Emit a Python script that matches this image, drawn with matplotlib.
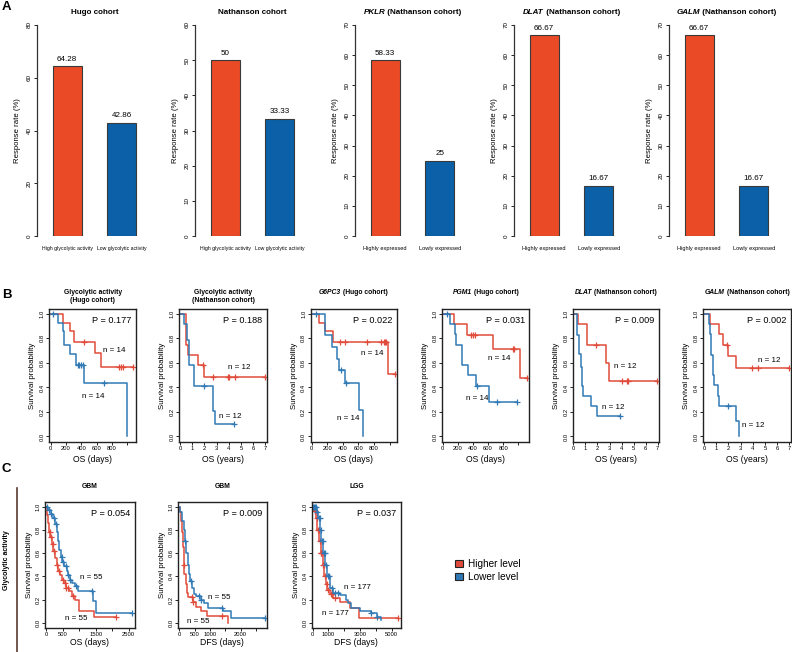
import numpy as np
import matplotlib
matplotlib.use('Agg')
import matplotlib.pyplot as plt
from matplotlib.patches import Patch

plt.rcParams['font.family'] = ['Liberation Sans', 'DejaVu Sans']

W, H = 792, 652
RED_BAR = '#EA4A26'
BLUE_BAR = '#0B60A8'
RED = '#E04B3B'
BLUE = '#3079B5'
DARK = '#222222'

# ---------------- panel A data ----------------
glyco_labels = ['High glycolytic activity', 'Low glycolytic activity']
expr_labels = ['Highly expressed', 'Lowly expressed']
hugo_rate = [64.28, 42.86]
nathanson_rate = [50, 33.33]
pklr_rate = [58.33, 25]
dlat_rate = [66.67, 16.67]
galm_rate = [66.67, 16.67]

# ---------------- panel B data (event times, survival after event, censor times) ----------------
b1_red_t = [165, 252, 309, 578, 657]
b1_red_s = [0.929, 0.857, 0.77, 0.68, 0.565]
b1_red_c = [439, 896, 917, 939, 1078]
b1_blue_t = [100, 165, 175, 250, 330, 430, 990]
b1_blue_s = [0.929, 0.857, 0.75, 0.67, 0.58, 0.44, 0.0]
b1_blue_c = [35, 352, 370, 391, 417, 700]

b2_red_t = [0.45, 0.65, 1.45, 2.0]
b2_red_s = [0.75, 0.667, 0.583, 0.486]
b2_red_c = [1.9, 2.7, 3.95, 4.05, 4.5, 6.95]
b2_blue_t = [0.35, 0.55, 0.75, 1.15, 2.7, 2.85]
b2_blue_s = [0.917, 0.79, 0.58, 0.41, 0.21, 0.10]
b2_blue_c = [2.0, 4.45]

b3_red_t = [95, 178, 270, 985]
b3_red_s = [0.929, 0.857, 0.77, 0.51]
b3_red_c = [360, 425, 705, 895, 925, 945, 958, 1068]
b3_blue_t = [178, 267, 326, 350, 432, 610, 665]
b3_blue_s = [0.83, 0.73, 0.63, 0.54, 0.44, 0.22, 0.0]
b3_blue_c = [51, 380, 441]

b4_red_t = [154, 317, 670, 1022]
b4_red_s = [0.92, 0.83, 0.71, 0.48]
b4_red_c = [370, 396, 427, 925, 947, 1110]
b4_blue_t = [97, 163, 176, 260, 339, 440, 612]
b4_blue_s = [0.92, 0.84, 0.75, 0.58, 0.5, 0.41, 0.28]
b4_blue_c = [53, 450, 722, 987]

b5_red_t = [0.36, 1.1, 2.7, 2.95]
b5_red_s = [0.917, 0.75, 0.6, 0.455]
b5_red_c = [1.88, 4.0, 4.42, 4.5, 6.9]
b5_blue_t = [0.33, 0.47, 0.6, 0.75, 0.83, 1.46, 2.0]
b5_blue_s = [0.83, 0.67, 0.57, 0.41, 0.33, 0.25, 0.17]
b5_blue_c = [3.9]

b6_red_t = [0.5, 1.23, 1.53, 2.0, 2.62]
b6_red_s = [0.917, 0.833, 0.75, 0.66, 0.56]
b6_red_c = [1.86, 3.96, 4.45, 6.94]
b6_blue_t = [0.4, 0.47, 0.55, 0.7, 0.8, 1.15, 1.25, 2.65, 2.9]
b6_blue_s = [0.917, 0.833, 0.667, 0.5, 0.417, 0.333, 0.25, 0.125, 0.0]
b6_blue_c = [2.0]

# ---------------- panel C data ----------------
c1_red_t = [20, 60, 100, 130, 170, 220, 270, 320, 370, 410, 470, 530, 600, 700, 800, 880, 1000, 1450]
c1_red_s = [0.93, 0.86, 0.78, 0.74, 0.68, 0.62, 0.56, 0.50, 0.45, 0.41, 0.37, 0.34, 0.30, 0.27, 0.23, 0.20, 0.10, 0.05]
c1_red_c = [110, 160, 200, 250, 330, 400, 520, 560, 610, 650, 830, 2110]
c1_blue_t = [70, 140, 200, 270, 320, 360, 400, 440, 490, 550, 620, 670, 720, 790, 875, 975, 1410, 1500]
c1_blue_s = [0.97, 0.94, 0.90, 0.85, 0.78, 0.70, 0.63, 0.57, 0.52, 0.49, 0.45, 0.41, 0.37, 0.34, 0.32, 0.27, 0.19, 0.08]
c1_blue_c = [30, 100, 150, 230, 290, 470, 520, 600, 680, 740, 900, 1390, 2590]

c2_red_t = [20, 50, 80, 110, 140, 170, 210, 250, 300, 450, 550, 700, 900, 1600]
c2_red_s = [0.95, 0.88, 0.78, 0.65, 0.5, 0.42, 0.33, 0.26, 0.22, 0.18, 0.14, 0.1, 0.06, 0.0]
c2_red_c = [140, 400, 460, 1400]
c2_blue_t = [30, 100, 150, 190, 230, 270, 310, 360, 420, 470, 530, 700, 800, 950, 1420, 1700]
c2_blue_s = [0.95, 0.88, 0.8, 0.7, 0.6, 0.5, 0.42, 0.36, 0.3, 0.25, 0.23, 0.2, 0.17, 0.13, 0.1, 0.045]
c2_blue_c = [200, 380, 650, 720, 1400, 2790]

c3_red_t = [100, 200, 300, 400, 500, 630, 740, 850, 930, 1100, 1300, 1700, 2360, 2950]
c3_red_s = [0.96, 0.9, 0.8, 0.7, 0.6, 0.5, 0.4, 0.33, 0.28, 0.25, 0.21, 0.18, 0.13, 0.04]
c3_red_c = [120, 180, 260, 330, 380, 450, 520, 560, 600, 650, 700, 800, 900, 1000, 1150, 1250, 1400, 5380]
c3_blue_t = [250, 350, 470, 560, 680, 800, 920, 1100, 1300, 1700, 2100, 2250, 2450, 3000, 3700, 4100, 4350]
c3_blue_s = [0.95, 0.9, 0.8, 0.7, 0.6, 0.5, 0.4, 0.3, 0.26, 0.24, 0.2, 0.17, 0.13, 0.1, 0.08, 0.05, 0.02]
c3_blue_c = [50, 100, 150, 200, 300, 400, 450, 520, 600, 650, 720, 780, 850, 950, 1050, 1200, 1400, 1600, 3700, 4100]


fig = plt.figure(figsize=(W / 100, H / 100), dpi=100)


def px_axes(x0, y0, x1, y1):
    return fig.add_axes([x0 / W, 1 - y1 / H, (x1 - x0) / W, (y1 - y0) / H])


def mixed_title(ax, parts, y_px, size):
    # bold title whose pieces may be italic, centred over the axes
    r = fig.canvas.get_renderer()
    texts = [fig.text(0, 1 - y_px / H, s, fontsize=size, fontweight='bold',
                      style='italic' if it else 'normal', va='center', ha='left')
             for s, it in parts]
    widths = [t.get_window_extent(r).width for t in texts]
    pos = ax.get_position()
    x = (pos.x0 + pos.x1) / 2 * W - sum(widths) / 2
    for t, w in zip(texts, widths):
        t.set_x(x / W)
        x += w


def bar_panel(x_axis, title, vals, labels, ymax, step, lbl_size):
    ax = px_axes(x_axis, 25, x_axis + 115, 236)
    pos = [0.55, 1.55]
    ax.bar(pos, vals, width=0.53, color=[RED_BAR, BLUE_BAR], edgecolor='#3a3a3a', lw=0.8)
    for p, v in zip(pos, vals):
        ax.annotate(f'{v:g}', (p, v), xytext=(0, 2.5), textcoords='offset points',
                    ha='center', va='bottom', fontsize=5.8)
    ax.set_xlim(0, 2.1)
    ax.set_ylim(0, ymax)
    ax.set_yticks(np.arange(0, ymax + 1, step))
    ax.set_yticklabels([str(v) for v in np.arange(0, ymax + 1, step)], rotation=90, va='center')
    ax.set_xticks(pos)
    ax.set_xticklabels(labels, fontsize=lbl_size)
    ax.tick_params(axis='x', length=0, pad=7)
    ax.tick_params(axis='y', labelsize=4.5, length=2.5, width=0.6, pad=1.5)
    for sp in ['top', 'right', 'bottom']:
        ax.spines[sp].set_visible(False)
    ax.spines['left'].set_linewidth(0.9)
    ax.spines['left'].set_color('#333333')
    ax.set_ylabel('Response rate (%)', fontsize=5.6)
    ax.yaxis.set_label_coords(-16 / 115, 0.5)
    ax.patch.set_alpha(0)
    mixed_title(ax, title, 12.7, 5.8)
    return ax


bar_panel(37, [('Hugo cohort', False)], hugo_rate, glyco_labels, 80, 20, 3.7)
bar_panel(195, [('Nathanson cohort', False)], nathanson_rate, glyco_labels, 60, 10, 3.7)
bar_panel(355, [('PKLR', True), (' (Nathanson cohort)', False)], pklr_rate, expr_labels, 70, 10, 4.1)
bar_panel(514, [('DLAT', True), (' (Nathanson cohort)', False)], dlat_rate, expr_labels, 70, 10, 4.1)
bar_panel(669, [('GALM', True), (' (Nathanson cohort)', False)], galm_rate, expr_labels, 70, 10, 4.1)


def km_curve(ax, t, s, c, color):
    xs = np.r_[0, t]
    ys = np.r_[1.0, s]
    end = max(xs[-1], max(c))
    ax.step(np.r_[xs, end], np.r_[ys, ys[-1]], where='post', color=color, lw=1.1)
    idx = np.searchsorted(xs, c, side='right') - 1
    ax.plot(c, ys[idx], ls='none', marker='+', ms=5, mew=0.9, color=color)


def km_panel(box, xlim, xticks, xticklabels, xlabel, curves, pval, n_pos, y_top, y_bot,
             ylab_off, xlab_off):
    x0, x1 = box
    ax = px_axes(x0, y_top, x1, y_bot)
    w, h = x1 - x0, y_bot - y_top
    for t, s, c, col in curves:
        km_curve(ax, t, s, c, col)
    ax.set_xlim(*xlim)
    ax.set_ylim(-0.045, 1.04)
    ax.set_xticks(xticks)
    ax.set_xticklabels(xticklabels)
    yt = np.arange(0, 1.01, 0.2)
    ax.set_yticks(yt)
    ax.set_yticklabels([f'{v:.1f}' for v in yt], rotation=90, va='center')
    ax.tick_params(labelsize=4.2, length=2, width=0.6, pad=1.2)
    for sp in ax.spines.values():
        sp.set_linewidth(1.0)
        sp.set_color(DARK)
    ax.set_xlabel(xlabel, fontsize=6.2)
    ax.xaxis.set_label_coords(0.5, -xlab_off / h)
    ax.set_ylabel('Survival probability', fontsize=5.7)
    ax.yaxis.set_label_coords(-ylab_off / w, 0.5)
    ax.text(0.95, 0.91, f'P = {pval}', transform=ax.transAxes, ha='right', va='center', fontsize=6.6)
    for (nx, ny), nt in n_pos:
        ax.text(nx, ny, nt, ha='center', va='center', fontsize=5.8)
    return ax


days_ticks = [0, 200, 400, 600, 800, 1000]
days_lbl = ['0', '200', '400', '600', '800', '']
yrs_ticks = list(range(8))
yrs_lbl = [str(v) for v in yrs_ticks]

by0, by1 = 309, 442
ax = km_panel((49.3, 136), (-18, 1112), days_ticks, days_lbl, 'OS (days)',
              [(b1_red_t, b1_red_s, b1_red_c, RED), (b1_blue_t, b1_blue_s, b1_blue_c, BLUE)],
              '0.177', [((826, 0.70), 'n = 14'), ((556, 0.33), 'n = 14')], by0, by1, 13, 13)
mixed_title(ax, [('Glycolytic activity', False)], 293, 4.9)
mixed_title(ax, [('(Hugo cohort)', False)], 300.5, 4.9)

ax = km_panel((179.3, 266.7), (-0.06, 7.1), yrs_ticks, yrs_lbl, 'OS (years)',
              [(b2_red_t, b2_red_s, b2_red_c, RED), (b2_blue_t, b2_blue_s, b2_blue_c, BLUE)],
              '0.188', [((4.86, 0.56), 'n = 12'), ((4.15, 0.16), 'n = 12')], by0, by1, 13, 13)
mixed_title(ax, [('Glycolytic activity', False)], 293, 4.9)
mixed_title(ax, [('(Nathanson cohort)', False)], 300.5, 4.9)

ax = km_panel((310.5, 396.7), (-13, 1090), days_ticks, days_lbl, 'OS (days)',
              [(b3_red_t, b3_red_s, b3_red_c, RED), (b3_blue_t, b3_blue_s, b3_blue_c, BLUE)],
              '0.022', [((771, 0.68), 'n = 14'), ((466, 0.15), 'n = 14')], by0, by1, 13, 13)
mixed_title(ax, [('G6PC3', True), (' (Hugo cohort)', False)], 293, 4.9)

ax = km_panel((441.7, 529.3), (-13, 1144), days_ticks, days_lbl, 'OS (days)',
              [(b4_red_t, b4_red_s, b4_red_c, RED), (b4_blue_t, b4_blue_s, b4_blue_c, BLUE)],
              '0.031', [((749, 0.64), 'n = 14'), ((458, 0.31), 'n = 14')], by0, by1, 13, 13)
mixed_title(ax, [('PGM1', True), (' (Hugo cohort)', False)], 293, 4.9)

ax = km_panel((572.7, 659), (-0.05, 7.1), yrs_ticks, yrs_lbl, 'OS (years)',
              [(b5_red_t, b5_red_s, b5_red_c, RED), (b5_blue_t, b5_blue_s, b5_blue_c, BLUE)],
              '0.009', [((4.28, 0.57), 'n = 12'), ((3.3, 0.24), 'n = 12')], by0, by1, 13, 13)
mixed_title(ax, [('DLAT', True), (' (Nathanson cohort)', False)], 293, 4.9)

ax = km_panel((703.3, 790.7), (-0.06, 7.1), yrs_ticks, yrs_lbl, 'OS (years)',
              [(b6_red_t, b6_red_s, b6_red_c, RED), (b6_blue_t, b6_blue_s, b6_blue_c, BLUE)],
              '0.002', [((5.35, 0.62), 'n = 12'), ((4.0, 0.09), 'n = 12')], by0, by1, 13, 13)
mixed_title(ax, [('GALM', True), (' (Nathanson cohort)', False)], 293, 4.9)

cy0, cy1 = 502, 628
ax = km_panel((45, 135), (-30, 2690), [0, 500, 1000, 1500, 2000, 2500],
              ['0', '500', '', '1500', '', '2500'], 'OS (days)',
              [(c1_red_t, c1_red_s, c1_red_c, RED), (c1_blue_t, c1_blue_s, c1_blue_c, BLUE)],
              '0.054', [((1377, 0.39), 'n = 55'), ((925, 0.04), 'n = 55')], cy0, cy1, 12, 10)
mixed_title(ax, [('GBM', False)], 487, 4.9)

ax = km_panel((177.7, 266.7), (-50, 2850), [0, 500, 1000, 1500, 2000, 2500],
              ['0', '500', '1000', '', '2000', ''], 'DFS (days)',
              [(c2_red_t, c2_red_s, c2_red_c, RED), (c2_blue_t, c2_blue_s, c2_blue_c, BLUE)],
              '0.009', [((1293, 0.22), 'n = 55'), ((620, 0.01), 'n = 55')], cy0, cy1, 12, 10)
mixed_title(ax, [('GBM', False)], 487, 4.9)

ax = km_panel((311.7, 401), (-60, 5590), [0, 1000, 2000, 3000, 4000, 5000],
              ['0', '1000', '', '3000', '', '5000'], 'DFS (days)',
              [(c3_red_t, c3_red_s, c3_red_c, RED), (c3_blue_t, c3_blue_s, c3_blue_c, BLUE)],
              '0.037', [((2827, 0.30), 'n = 177'), ((1413, 0.08), 'n = 177')], cy0, cy1, 12, 10)
mixed_title(ax, [('LGG', False)], 487, 4.9)

# legend
fig.legend(handles=[Patch(facecolor=RED, edgecolor=DARK, lw=0.8, label='Higher level'),
                    Patch(facecolor=BLUE, edgecolor=DARK, lw=0.8, label='Lower level')],
           loc='upper left', bbox_to_anchor=(455 / W, 1 - 559 / H), frameon=False,
           fontsize=7.2, handlelength=0.8, handleheight=0.8, handletextpad=0.5,
           labelspacing=0.3, borderpad=0, borderaxespad=0)

# row label for panel C
fig.add_artist(plt.Line2D([17 / W, 17 / W], [1 - 488 / H, 0], color='#5b3b2e', lw=1.2))
fig.text(7 / W, 1 - 560 / H, 'Glycolytic activity', rotation=90, ha='center', va='center',
         fontsize=5, fontweight='bold')

# panel letters
for letter, y in [('A', 7), ('B', 295), ('C', 469)]:
    fig.text(2 / W, 1 - y / H, letter, fontsize=9.5, fontweight='bold', va='center', ha='left')

fig.savefig('out.png', dpi=100)
